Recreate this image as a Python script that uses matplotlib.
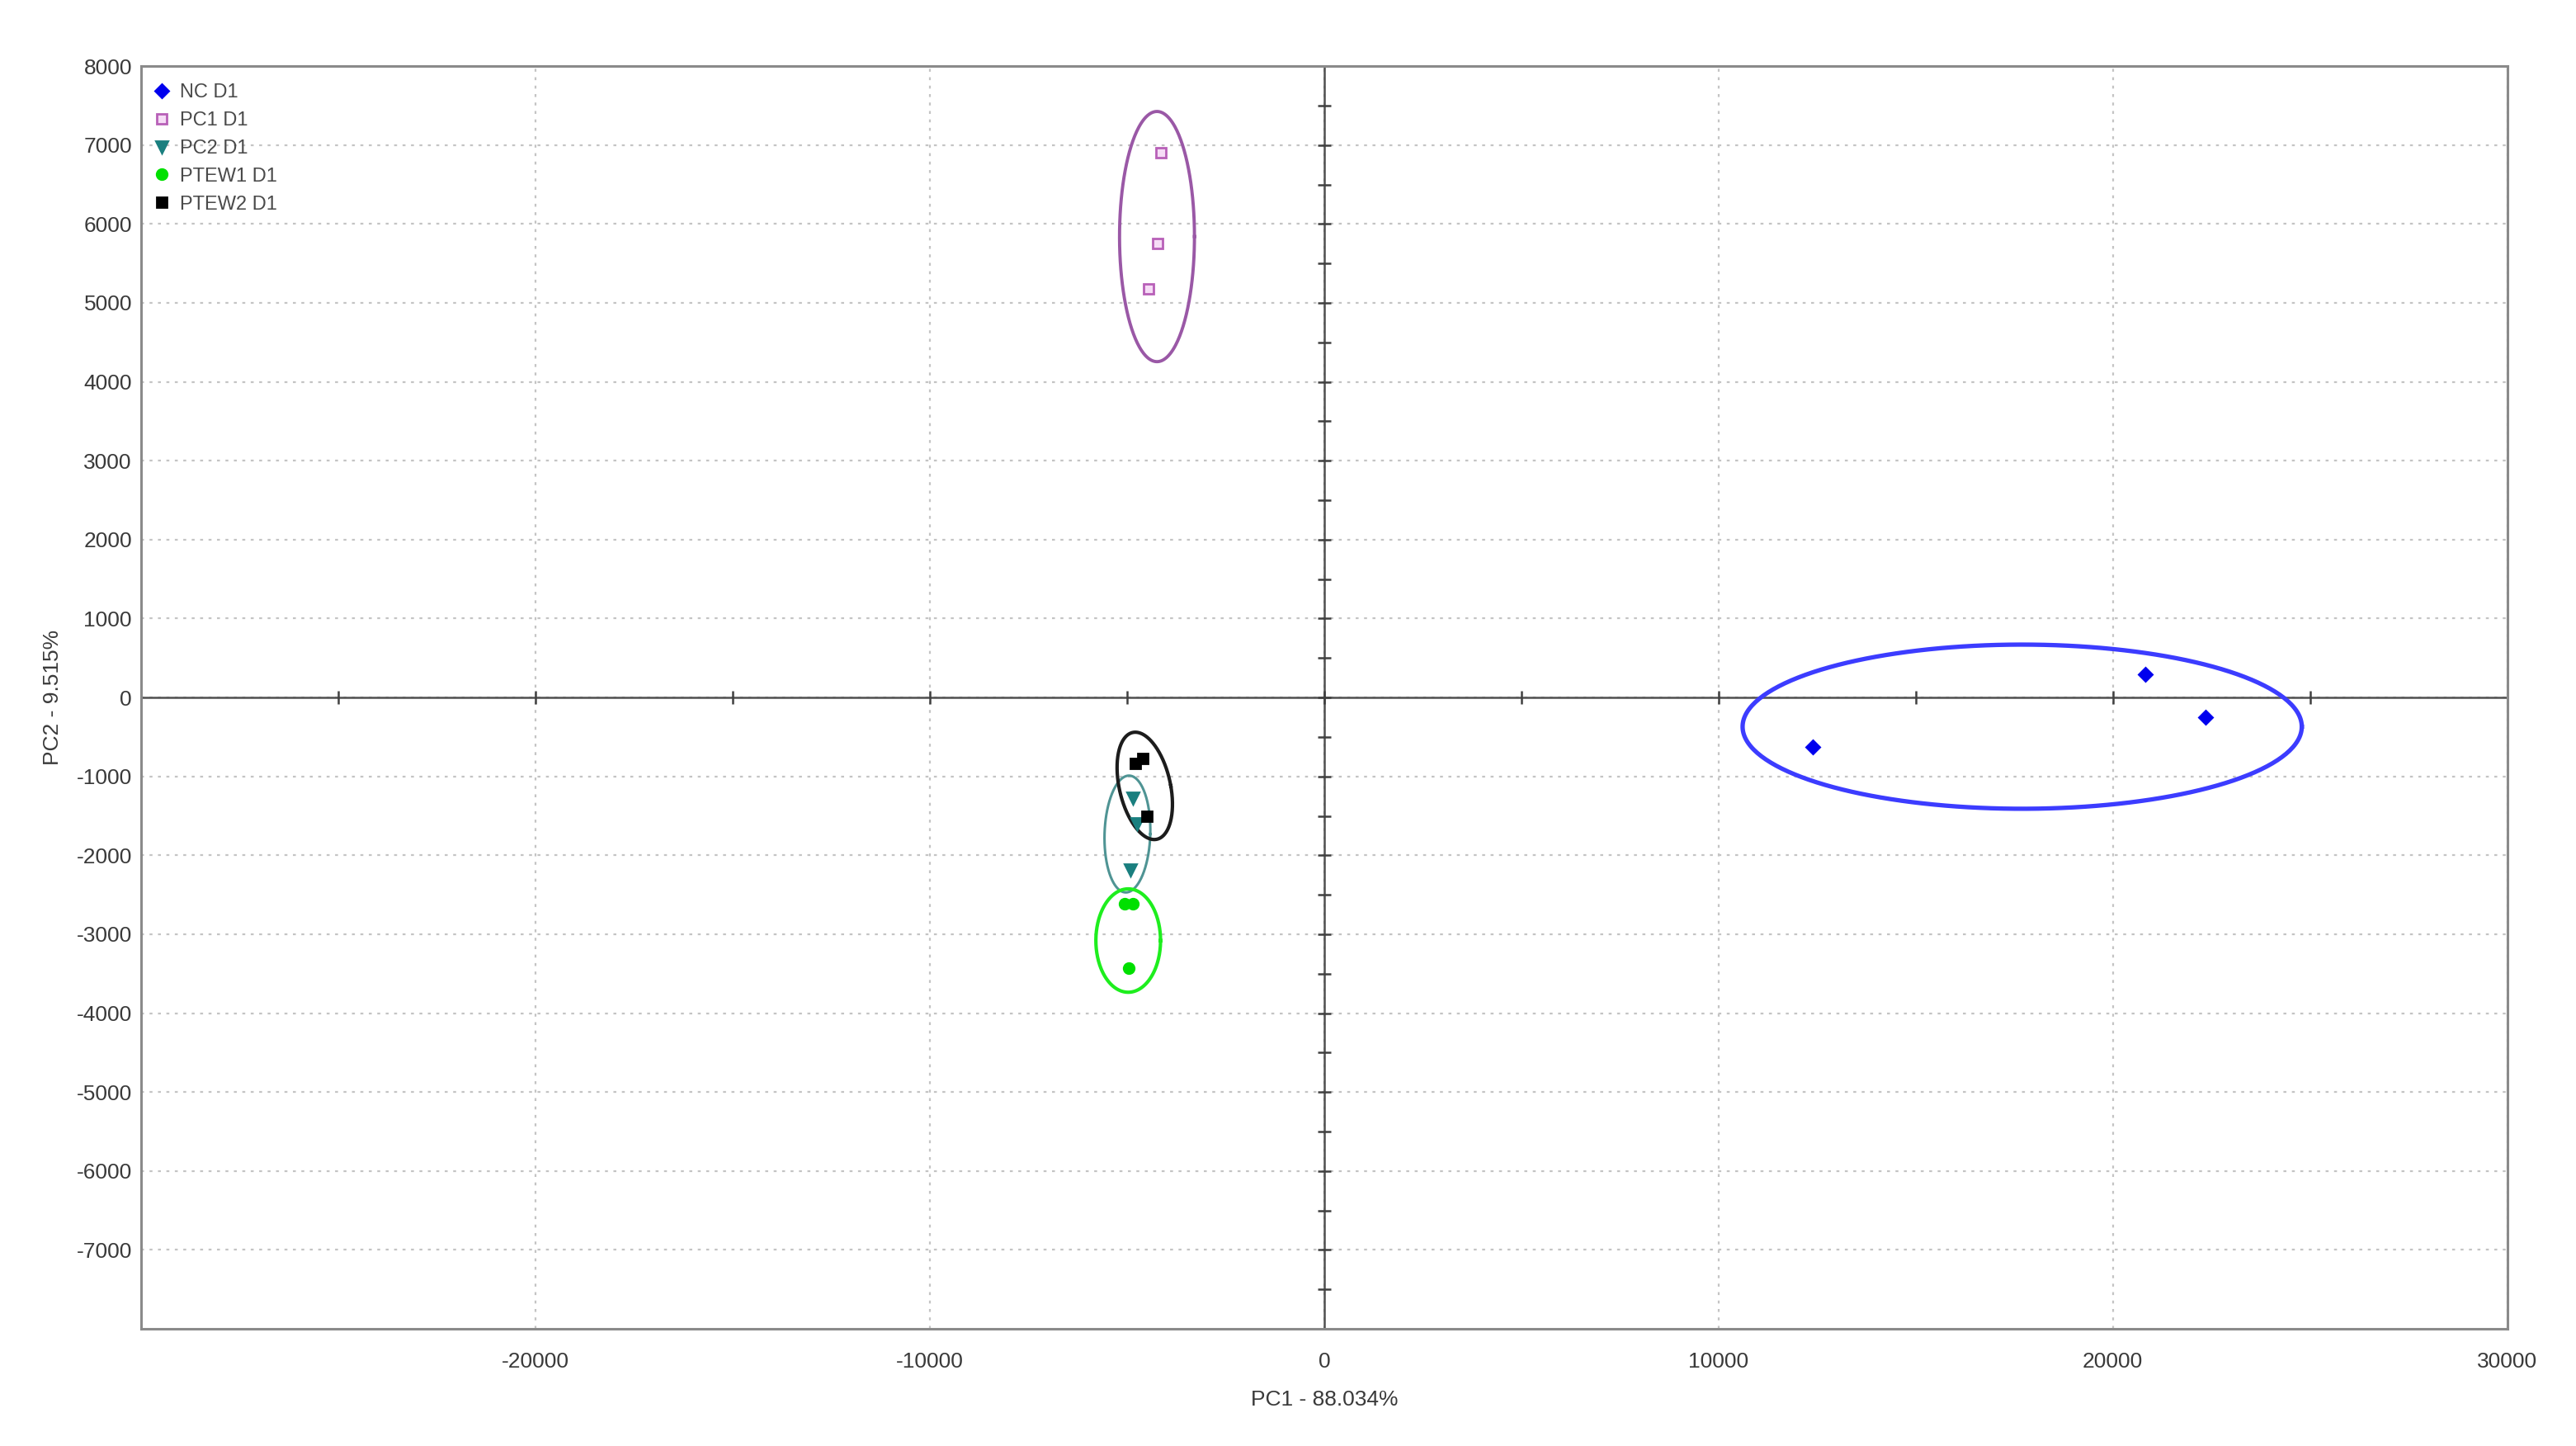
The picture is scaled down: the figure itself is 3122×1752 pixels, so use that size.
"""
PCA score plot (PC1 vs PC2) with group ellipses.
"""

import numpy as np
import matplotlib
matplotlib.use("Agg")
import matplotlib.pyplot as plt

# ---- data ----
group_labels = ["NC D1", "PC1 D1", "PC2 D1", "PTEW1 D1", "PTEW2 D1"]

nc_x = [12400, 20820, 22340]
nc_y = [-630, 290, -250]

pc1_x = [-4140, -4230, -4460]
pc1_y = [6900, 5750, 5180]

pc2_x = [-4850, -4750, -4920]
pc2_y = [-1270, -1600, -2180]

ptew1_x = [-5060, -4860, -4960]
ptew1_y = [-2610, -2610, -3430]

ptew2_x = [-4780, -4600, -4500]
ptew2_y = [-840, -770, -1500]

# ellipse centre x, centre y, half width, half height, shear (tilt)
ell_cx = [17700, -4240, -4990, -4970, -4550]
ell_cy = [-370, 5840, -1730, -3080, -1120]
ell_a = [7090, 950, 580, 820, 660]
ell_b = [1040, 1585, 740, 655, 680]
ell_s = [0, 0, 40, 0, -240]

x_ticks = [-20000, -10000, 0, 10000, 20000, 30000]
y_ticks = [8000, 7000, 6000, 5000, 4000, 3000, 2000, 1000, 0,
           -1000, -2000, -3000, -4000, -5000, -6000, -7000]

x_label = "PC1 - 88.034%"
y_label = "PC2 - 9.515%"

# ---- styling ----
plt.rcParams['font.family'] = ['Liberation Sans', 'DejaVu Sans']
plt.rcParams['axes.unicode_minus'] = False

markers = ['D', 's', 'v', 'o', 's']
face_colors = ['#0000ee', '#f6dcf6', '#1a7f7f', '#00e000', '#000000']
edge_colors = ['#0000ee', '#b860b8', '#1a7f7f', '#00e000', '#000000']
marker_sizes = [4.2, 4.5, 5, 4.5, 4]
ell_colors = ['#3c3cff', '#9a58a6', '#4f9494', '#1eee1e', '#1c1c1c']
ell_widths = [1.9, 1.4, 1.1, 1.5, 1.5]

fig = plt.figure(figsize=(15.61, 8.76), dpi=200)
ax = fig.add_axes([0.0548, 0.081, 0.9185, 0.8733])

xs = [nc_x, pc1_x, pc2_x, ptew1_x, ptew2_x]
ys = [nc_y, pc1_y, pc2_y, ptew1_y, ptew2_y]

# dotted grid
for v in x_ticks:
    ax.axvline(v, color='#c4c4c4', lw=0.8, ls=(0, (1.6, 3)), zorder=0)
for v in y_ticks:
    ax.axhline(v, color='#c4c4c4', lw=0.8, ls=(0, (1.6, 3)), zorder=0)

# zero axes with small tick marks
ax.axhline(0, color='#505050', lw=0.9, zorder=1)
ax.axvline(0, color='#505050', lw=0.9, zorder=1)
xt = np.arange(-25000, 30000, 5000)
ax.plot(xt, np.zeros_like(xt), ls='none', marker='|', ms=6, mew=0.9,
        color='#404040', zorder=1)
yt = np.arange(-7500, 8000, 500)
ax.plot(np.zeros_like(yt), yt, ls='none', marker='_', ms=6, mew=0.9,
        color='#404040', zorder=1)

# ellipses
t = np.linspace(0, 2 * np.pi, 300)
for i in range(len(group_labels)):
    ex = ell_cx[i] + ell_a[i] * np.cos(t) + ell_s[i] * np.sin(t)
    ey = ell_cy[i] + ell_b[i] * np.sin(t)
    ax.plot(ex, ey, color=ell_colors[i], lw=ell_widths[i], zorder=2)

# points
for i, lab in enumerate(group_labels):
    ax.plot(xs[i], ys[i], ls='none', marker=markers[i], ms=marker_sizes[i],
            mfc=face_colors[i], mec=edge_colors[i], mew=1.0, label=lab,
            zorder=3)

ax.set_xlim(-30000, 30000)
ax.set_ylim(-8000, 8000)
ax.set_xticks(x_ticks)
ax.set_yticks(y_ticks)
ax.tick_params(length=0, labelsize=9.5, labelcolor='#3a3a3a', pad=10)
ax.tick_params(axis='y', pad=4)

for sp in ax.spines.values():
    sp.set_color('#8a8a8a')
    sp.set_linewidth(1.1)

ax.set_xlabel(x_label, fontsize=9.5, color='#3a3a3a', labelpad=8)
ax.set_ylabel(y_label, fontsize=9.5, color='#3a3a3a', labelpad=6)

leg = ax.legend(loc='upper left', bbox_to_anchor=(-0.003, 1.0), frameon=False,
                fontsize=8.5, handlelength=1.0, handletextpad=0.45,
                labelspacing=0.5, borderpad=0.3, borderaxespad=0.6)
for txt in leg.get_texts():
    txt.set_color('#4a4a4a')

fig.savefig("out.png", dpi=200)
